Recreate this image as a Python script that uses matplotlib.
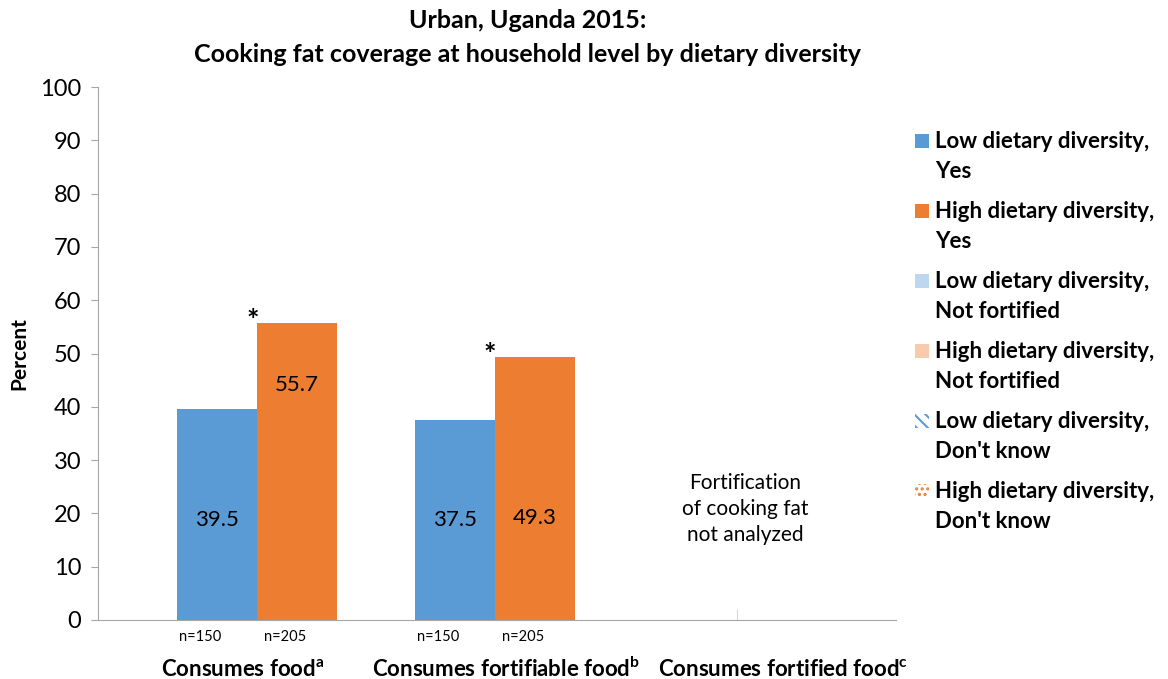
import matplotlib.pyplot as plt
from matplotlib.patches import Rectangle

plt.rcParams["font.family"] = ["Lato", "DejaVu Sans"]
plt.rcParams["mathtext.fontset"] = "custom"
plt.rcParams["mathtext.bf"] = "Lato:bold"
plt.rcParams["mathtext.rm"] = "Lato"
plt.rcParams["hatch.linewidth"] = 1.5

categories = ["Consumes food$^{\\mathbf{a}}$", "Consumes fortifiable food$^{\\mathbf{b}}$",
              "Consumes fortified food$^{\\mathbf{c}}$"]
low_yes = [39.5, 37.5]
high_yes = [55.7, 49.3]
low_n = ["n=150", "n=150"]
high_n = ["n=205", "n=205"]
significant = [True, True]
legend_labels = ["Low dietary diversity,\nYes", "High dietary diversity,\nYes",
                 "Low dietary diversity,\nNot fortified", "High dietary diversity,\nNot fortified",
                 "Low dietary diversity,\nDon't know", "High dietary diversity,\nDon't know"]

BLUE = "#5B9BD5"
ORANGE = "#ED7D31"
LBLUE = "#BDD7EE"
LORANGE = "#F8CBAD"

W, H = 1168, 679
fig = plt.figure(figsize=(W / 100, H / 100), dpi=100)
ax = fig.add_axes([98 / W, 1 - 620 / H, (896 - 98) / W, (620 - 87) / H])

w = 0.336
x = list(range(len(low_yes)))
ax.bar([i - w / 2 for i in x], low_yes, width=w, color=BLUE)
ax.bar([i + w / 2 for i in x], high_yes, width=w, color=ORANGE)

label_y = [(18.8, 44.0), (18.8, 19.1)]
for i in x:
    ax.text(i - w / 2, label_y[i][0], f"{low_yes[i]:.1f}", ha="center", va="center", fontsize=16)
    ax.text(i + w / 2, label_y[i][1], f"{high_yes[i]:.1f}", ha="center", va="center", fontsize=16)
    ax.text(i - w / 2 - 0.07, -3.2, low_n[i], ha="center", va="center", fontsize=10.5)
    ax.text(i + w / 2 - 0.05, -3.2, high_n[i], ha="center", va="center", fontsize=10.5)
    if significant[i]:
        ax.text(i - 0.02, high_yes[i] - 2.0, "*", ha="center", va="bottom", fontsize=21,
                fontweight="bold")

ax.text(2.05, 20.8, "Fortification\nof cooking fat\nnot analyzed", ha="center", va="center",
        fontsize=15, linespacing=1.38)

cat_x = [-0.06, 1.046, 2.21]
for cx, lab in zip(cat_x, categories):
    ax.text(cx, -9.2, lab, ha="center", va="center", fontsize=16, fontweight="bold")

ax.set_xlim(-0.668, 2.685)
ax.set_ylim(0, 100)
ax.set_yticks(range(0, 101, 10))
ax.tick_params(axis="y", labelsize=17, length=5, color="#A6A6A6", pad=7)
ax.set_xticks([2.017])
ax.set_xticklabels([""])
ax.tick_params(axis="x", direction="in", length=8, color="#D9D9D9")
for s in ["top", "right"]:
    ax.spines[s].set_visible(False)
ax.spines["left"].set_color("#A6A6A6")
ax.spines["bottom"].set_color("#A6A6A6")
ax.set_ylabel("Percent", fontsize=15, fontweight="bold", labelpad=8)

fig.text(528 / W, 1 - 20 / H, "Urban, Uganda 2015:", ha="center", va="center",
         fontsize=18, fontweight="bold")
fig.text(528 / W, 1 - 55 / H, "Cooking fat coverage at household level by dietary diversity",
         ha="center", va="center", fontsize=18, fontweight="bold")

# legend drawn by hand so the marker lines up with the first text line
faces = [BLUE, ORANGE, LBLUE, LORANGE, "white", "white"]
edges = ["none", "none", "none", "none", BLUE, ORANGE]
hatches = [None, None, None, None, "\\\\\\", "..."]
for k, lab in enumerate(legend_labels):
    yc = 141 + 70 * k
    fig.patches.append(Rectangle((915 / W, 1 - (yc + 7) / H), 14 / W, 14 / H, transform=fig.transFigure,
                                 facecolor=faces[k], edgecolor=edges[k], hatch=hatches[k], linewidth=0))
    fig.text(935 / W, 1 - (yc - 10) / H, lab, ha="left", va="top", fontsize=16, fontweight="bold",
             linespacing=1.55)

fig.savefig("out.png", dpi=100)
